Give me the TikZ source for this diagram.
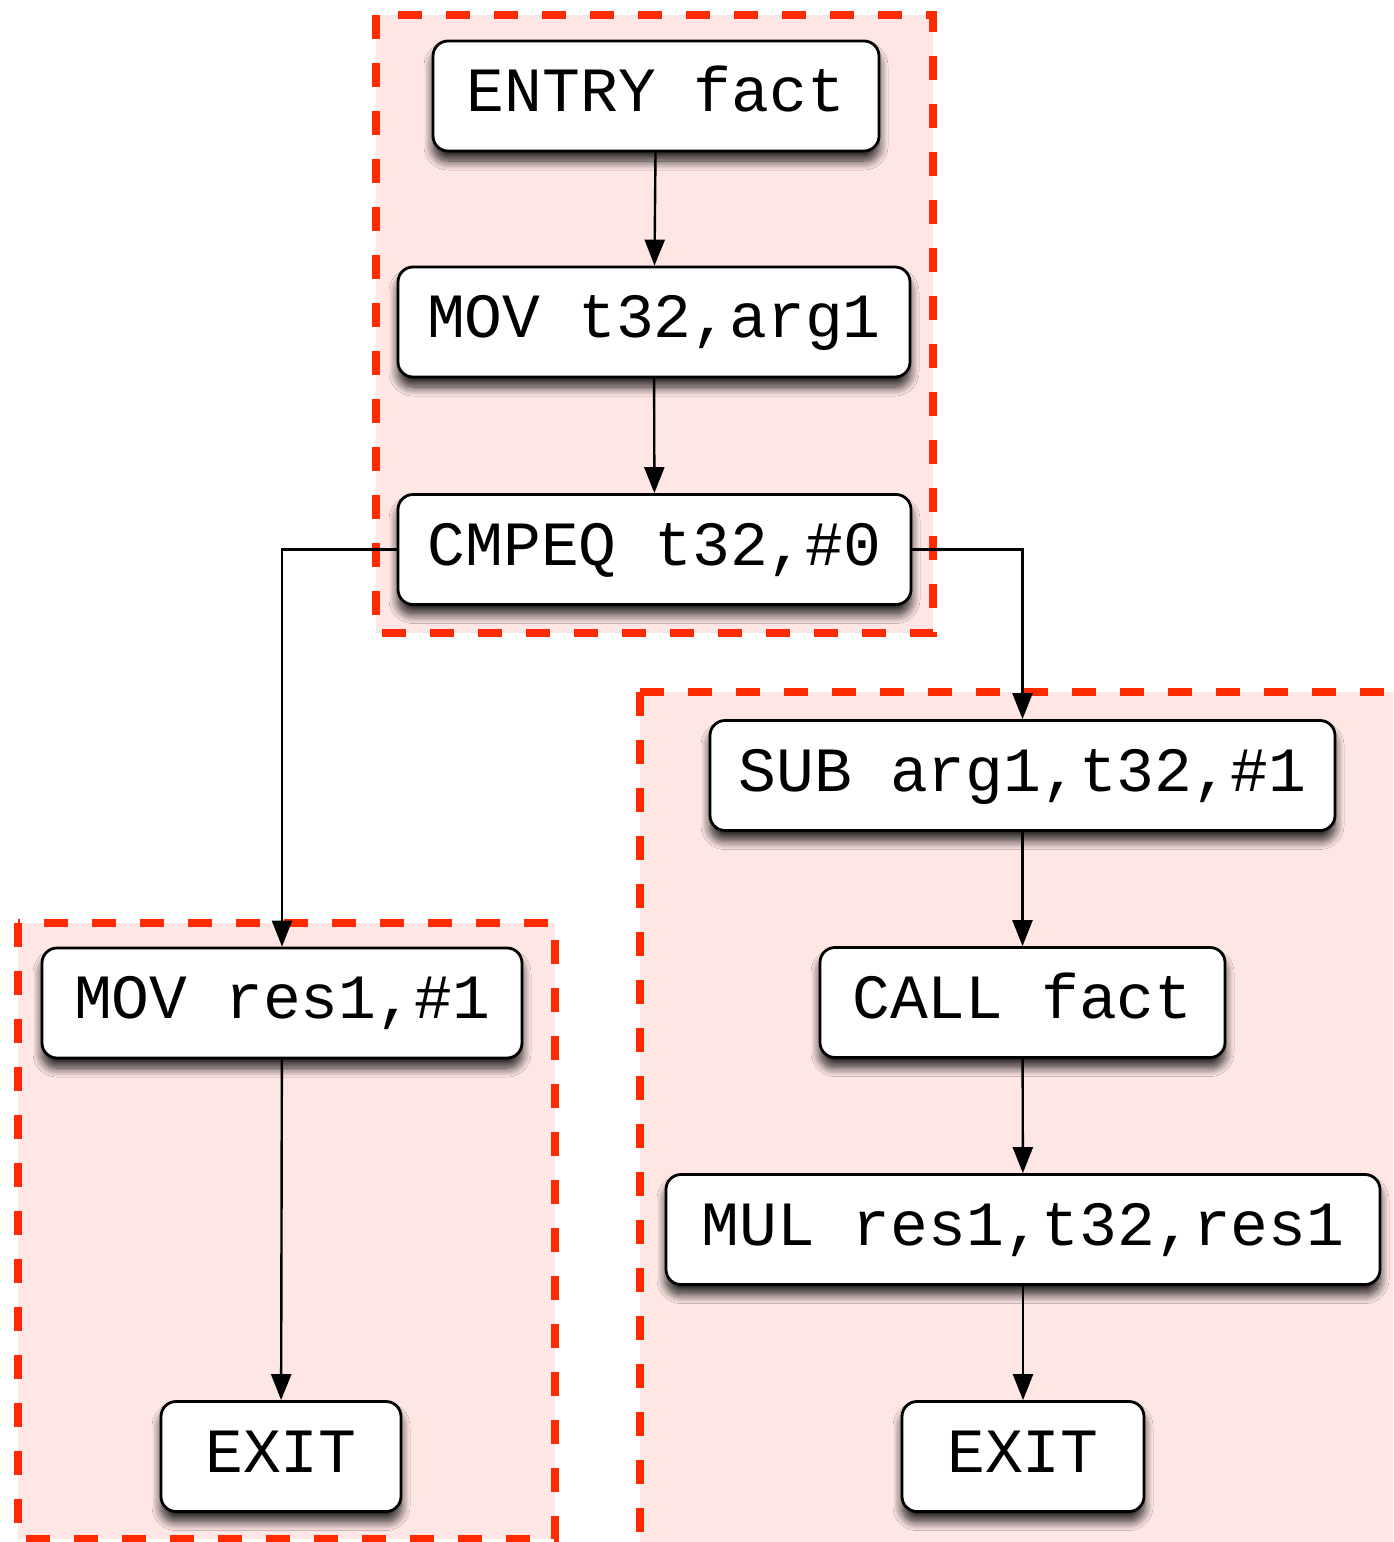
\documentclass[tikz,border=0pt]{standalone}
\usepackage{fontspec}
\newfontfamily\codefont{Liberation Mono}
\usetikzlibrary{shadows.blur,arrows.meta}
\definecolor{grpfill}{HTML}{FDE6E4}
\definecolor{grpline}{HTML}{FF2A00}
\begin{document}
\begin{tikzpicture}[x=1pt,y=-1pt,
  instr/.style={draw=black, line width=2.8pt, fill=white, rounded corners=15pt,
    minimum height=110pt, inner xsep=0pt, text height=37pt, text depth=6pt,
    font=\codefont\fontsize{63}{63}\selectfont,
    blur shadow={shadow xshift=0pt, shadow yshift=-10pt, shadow blur radius=9pt, shadow opacity=85, shadow blur steps=12}},
  grp/.style={fill=grpfill, draw=grpline, line width=8.5pt, dash pattern=on 24pt off 24pt},
  flow/.style={line width=2.4pt, -{Triangle[length=26pt,width=20pt]}}]
\useasboundingbox (0,0) rectangle (1393,1542);
\clip (0,0) rectangle (1393,1542);
% groups
\draw[grp] (376,15) rectangle (933,633);
\draw[grp] (640,692) rectangle (1420,1580);
\draw[grp] (18,923) rectangle (555,1539);
% nodes
\node[instr, minimum width=446pt] (entry) at (656,96) {ENTRY fact};
\node[instr, minimum width=512pt] (mov1) at (654,322) {MOV t32,arg1};
\node[instr, minimum width=513pt] (cmp) at (654.5,549.5) {CMPEQ t32,\#0};
\node[instr, minimum width=625pt] (sub) at (1022.5,775.5) {SUB arg1,t32,\#1};
\node[instr, minimum width=405pt] (call) at (1022.5,1002.5) {CALL fact};
\node[instr, minimum width=714pt] (mul) at (1023,1229.5) {MUL res1,t32,res1};
\node[instr, minimum width=242pt] (exitR) at (1023,1456.5) {EXIT};
\node[instr, minimum width=480pt] (movr) at (282,1003) {MOV res1,\#1};
\node[instr, minimum width=240pt] (exitL) at (281,1456.5) {EXIT};
% connectors
\draw[flow] (entry) -- (mov1);
\draw[flow] (mov1) -- (cmp);
\draw[flow] (cmp.west) -| (movr.north);
\draw[flow] (cmp.east) -| (sub.north);
\draw[flow] (sub) -- (call);
\draw[flow] (call) -- (mul);
\draw[flow] (mul) -- (exitR);
\draw[flow] (movr) -- (exitL);
\end{tikzpicture}
\end{document}
